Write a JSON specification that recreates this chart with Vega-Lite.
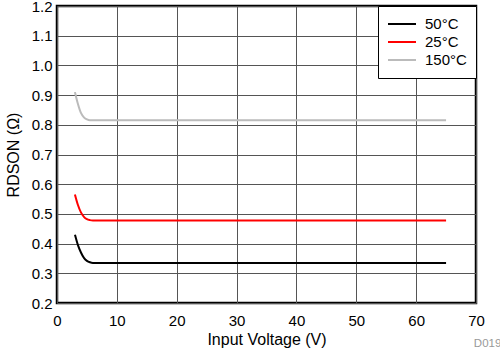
{
  "$schema": "https://vega.github.io/schema/vega-lite/v6.json",
  "autosize": "none",
  "width": 419,
  "height": 297,
  "padding": {"left": 57, "top": 6, "right": 24, "bottom": 48},
  "background": "white",
  "config": {
    "font": "Liberation Sans",
    "view": {"stroke": "black", "strokeWidth": 2.5},
    "axis": {
      "labelFont": "Liberation Sans",
      "titleFont": "Liberation Sans",
      "labelFontSize": 15,
      "titleFontSize": 16,
      "labelColor": "black",
      "titleColor": "black",
      "titleFontWeight": "normal",
      "domain": false,
      "ticks": false,
      "gridColor": "#555",
      "gridWidth": 1,
      "gridOpacity": 1
    }
  },
  "title": {
    "text": "D019",
    "orient": "bottom",
    "anchor": "end",
    "fontSize": 11.5,
    "fontWeight": "normal",
    "color": "#999",
    "font": "Liberation Sans",
    "offset": -9,
    "dx": 17
  },
  "data": {
    "values": [
      {"v": 3.0, "r": 0.43, "t": "\u00a0\u00a050°C"},
      {"v": 3.5, "r": 0.395, "t": "\u00a0\u00a050°C"},
      {"v": 4.0, "r": 0.37, "t": "\u00a0\u00a050°C"},
      {"v": 4.5, "r": 0.352, "t": "\u00a0\u00a050°C"},
      {"v": 5.0, "r": 0.342, "t": "\u00a0\u00a050°C"},
      {"v": 5.5, "r": 0.337, "t": "\u00a0\u00a050°C"},
      {"v": 6.0, "r": 0.335, "t": "\u00a0\u00a050°C"},
      {"v": 65.0, "r": 0.335, "t": "\u00a0\u00a050°C"},
      {"v": 3.0, "r": 0.565, "t": "25°C"},
      {"v": 3.5, "r": 0.53, "t": "25°C"},
      {"v": 4.0, "r": 0.505, "t": "25°C"},
      {"v": 4.5, "r": 0.49, "t": "25°C"},
      {"v": 5.0, "r": 0.482, "t": "25°C"},
      {"v": 5.5, "r": 0.479, "t": "25°C"},
      {"v": 6.0, "r": 0.478, "t": "25°C"},
      {"v": 65.0, "r": 0.478, "t": "25°C"},
      {"v": 3.0, "r": 0.91, "t": "150°C"},
      {"v": 3.5, "r": 0.87, "t": "150°C"},
      {"v": 4.0, "r": 0.84, "t": "150°C"},
      {"v": 4.5, "r": 0.825, "t": "150°C"},
      {"v": 5.0, "r": 0.818, "t": "150°C"},
      {"v": 5.5, "r": 0.815, "t": "150°C"},
      {"v": 65.0, "r": 0.815, "t": "150°C"}
    ]
  },
  "mark": {"type": "line", "strokeWidth": 2, "interpolate": "monotone"},
  "encoding": {
    "x": {
      "field": "v", "type": "quantitative",
      "scale": {"domain": [0, 70], "nice": false, "zero": false},
      "axis": {"values": [0, 10, 20, 30, 40, 50, 60, 70], "title": "Input Voltage (V)", "labelPadding": 10, "titlePadding": 3, "labelFlush": false}
    },
    "y": {
      "field": "r", "type": "quantitative",
      "scale": {"domain": [0.2, 1.2], "nice": false, "zero": false},
      "axis": {"values": [0.2, 0.3, 0.4, 0.5, 0.6, 0.7, 0.8, 0.9, 1, 1.1, 1.2], "title": "RDSON (Ω)", "labelPadding": 5, "titlePadding": 10, "labelFlush": false}
    },
    "color": {
      "field": "t", "type": "nominal",
      "scale": {"domain": ["\u00a0\u00a050°C", "25°C", "150°C"], "range": ["black", "#ff0000", "#bbbbbb"]},
      "legend": {
        "title": null,
        "orient": "top-right",
        "offset": 0,
        "strokeColor": "black",
        "fillColor": "white",
        "padding": 9,
        "symbolType": "stroke",
        "symbolSize": 784,
        "symbolStrokeWidth": 2,
        "clipHeight": 18,
        "rowPadding": 0,
        "labelFontSize": 15,
        "labelFont": "Liberation Sans",
        "labelColor": "black",
        "labelOffset": 8
      }
    }
  }
}
